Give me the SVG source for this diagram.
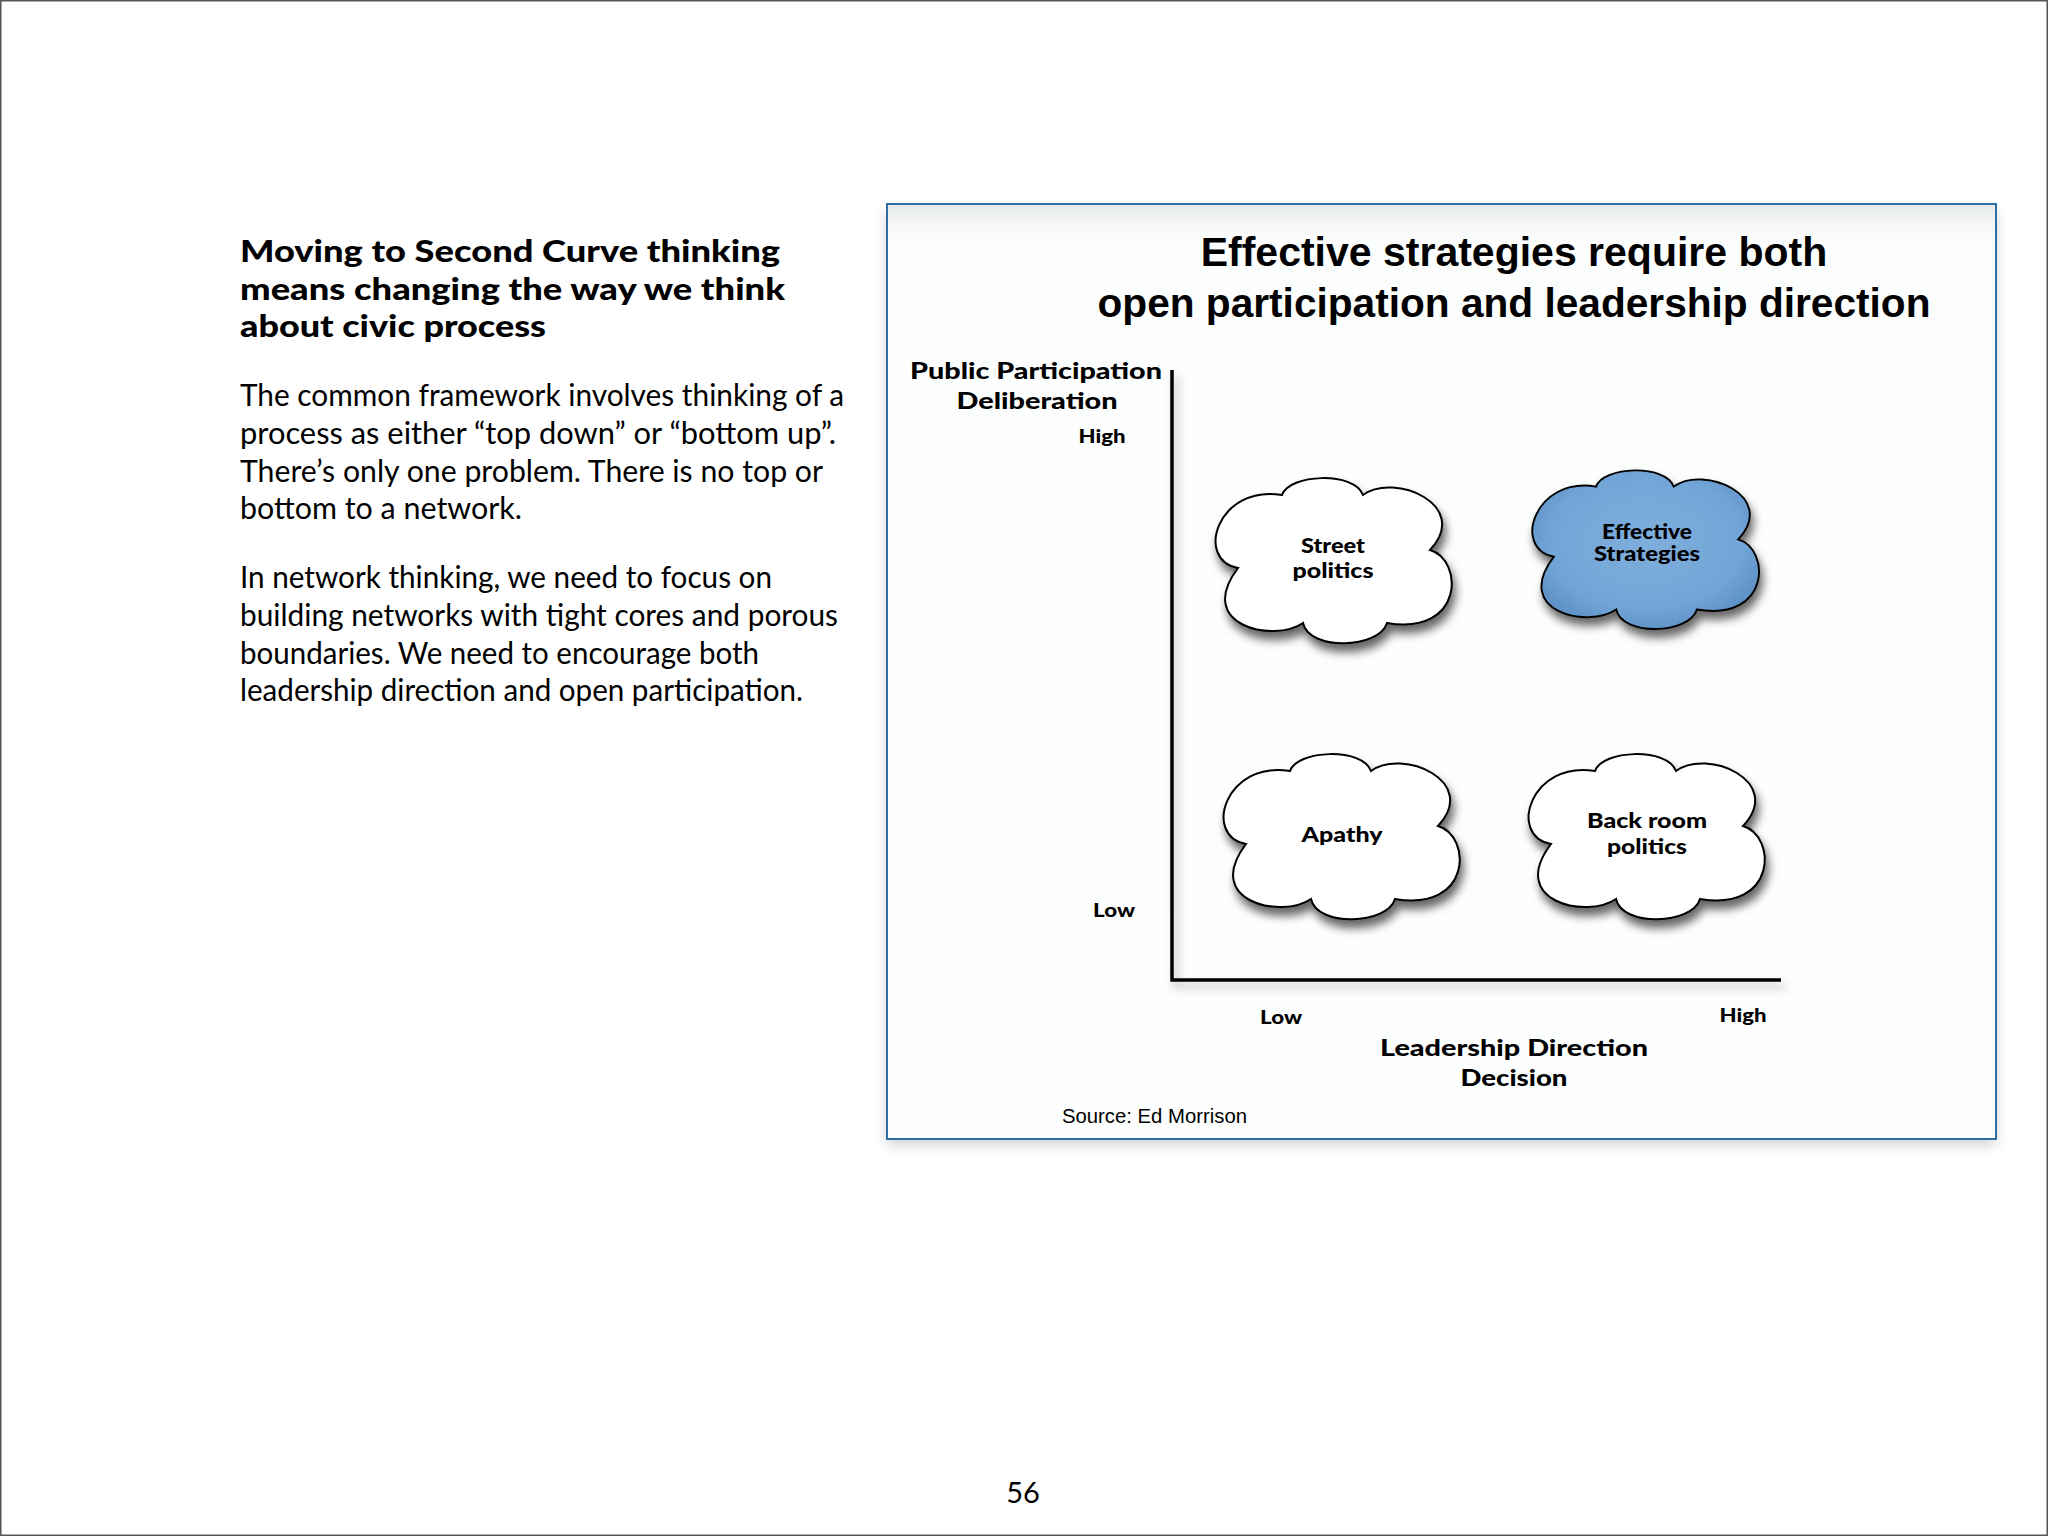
<svg xmlns="http://www.w3.org/2000/svg" xmlns:xlink="http://www.w3.org/1999/xlink" width="2048" height="1536" viewBox="0 0 2048 1536">
<style>
.gill{font-family:Lato,"Open Sans","DejaVu Sans",sans-serif;fill:#000}
.head{font-size:31px;font-weight:900}
.body{font-size:30px;font-weight:400}
.ax{font-size:23px;font-weight:900}
.tick{font-size:19px;font-weight:900}
.cl{font-size:20px;font-weight:900}
.title{font-family:"Liberation Sans",Arial,sans-serif;font-weight:bold;font-size:41px;fill:#000}
.src{font-family:"Liberation Sans",Arial,sans-serif;font-size:20px;fill:#000}
.cloud{stroke:#000;stroke-width:2}
.axis{stroke:#000;stroke-width:3.5;fill:none}
</style>
<defs>
<path id="cloudShape" d="M -96 8 C -140 0 -116 -76 -52 -65 C -45 -86 20 -89 29 -65 C 60 -88 138 -55 96 -10 C 130 0 130 76 53 63 C 45 89 -25 91 -31 63 C -60 83 -140 66 -96 8 Z"/>
<filter id="cloudShadow" x="-20%" y="-20%" width="140%" height="150%">
<feDropShadow dx="3" dy="8" stdDeviation="5" flood-color="#000" flood-opacity="0.6"/>
</filter>
<filter id="axisShadow" x="-10%" y="-10%" width="120%" height="120%">
<feDropShadow dx="4" dy="6" stdDeviation="5" flood-color="#000" flood-opacity="0.3"/>
</filter>
<filter id="boxShadow" x="-5%" y="-5%" width="110%" height="110%">
<feGaussianBlur stdDeviation="7"/>
</filter>
<radialGradient id="blueFill" cx="50%" cy="45%" r="60%">
<stop offset="0" stop-color="#7eaedb"/>
<stop offset="0.7" stop-color="#72a5d7"/>
<stop offset="1" stop-color="#5a8ec4"/>
</radialGradient>
<linearGradient id="boxFill" x1="0" y1="0" x2="0" y2="1">
<stop offset="0" stop-color="#e6e9e9"/>
<stop offset="0.018" stop-color="#f4f6f6"/>
<stop offset="0.04" stop-color="#fcfdfd"/>
<stop offset="1" stop-color="#fdfefe"/>
</linearGradient>
</defs>

<rect x="0.75" y="0.75" width="2046.5" height="1534.5" fill="#fff" stroke="#555" stroke-width="1.5"/>

<g id="left-text">
<text class="gill head" x="240" y="262" textLength="540" lengthAdjust="spacingAndGlyphs">Moving to Second Curve thinking</text>
<text class="gill head" x="240" y="300" textLength="545" lengthAdjust="spacingAndGlyphs">means changing the way we think</text>
<text class="gill head" x="240" y="337" textLength="306" lengthAdjust="spacingAndGlyphs">about civic process</text>
<text class="gill body" x="240" y="406" textLength="604" lengthAdjust="spacingAndGlyphs">The common framework involves thinking of a</text>
<text class="gill body" x="240" y="444" textLength="596" lengthAdjust="spacingAndGlyphs">process as either “top down” or “bottom up”.</text>
<text class="gill body" x="240" y="482" textLength="583" lengthAdjust="spacingAndGlyphs">There’s only one problem. There is no top or</text>
<text class="gill body" x="240" y="519" textLength="282" lengthAdjust="spacingAndGlyphs">bottom to a network.</text>
<text class="gill body" x="240" y="588" textLength="532" lengthAdjust="spacingAndGlyphs">In network thinking, we need to focus on</text>
<text class="gill body" x="240" y="626" textLength="598" lengthAdjust="spacingAndGlyphs">building networks with tight cores and porous</text>
<text class="gill body" x="240" y="664" textLength="519" lengthAdjust="spacingAndGlyphs">boundaries. We need to encourage both</text>
<text class="gill body" x="240" y="701" textLength="563" lengthAdjust="spacingAndGlyphs">leadership direction and open participation.</text>
</g>

<g id="chart-frame">
<rect x="887" y="210" width="1109" height="935" fill="#000" opacity="0.18" filter="url(#boxShadow)"/>
<rect x="887" y="204" width="1109" height="935" fill="url(#boxFill)" stroke="#2f6ea3" stroke-width="2"/>
<text class="title" x="1514" y="266" text-anchor="middle">Effective strategies require both</text>
<text class="title" x="1514" y="317" text-anchor="middle" textLength="833" lengthAdjust="spacingAndGlyphs">open participation and leadership direction</text>
</g>

<g id="axes">
<path class="axis" d="M 1172 370 L 1172 980 L 1781 980" filter="url(#axisShadow)"/>
</g>

<g id="axis-labels">
<text class="gill ax" x="1036" y="379" text-anchor="middle" textLength="252" lengthAdjust="spacingAndGlyphs">Public Participation</text>
<text class="gill ax" x="1037" y="409" text-anchor="middle" textLength="161" lengthAdjust="spacingAndGlyphs">Deliberation</text>
<text class="gill tick" x="1102" y="443" text-anchor="middle" textLength="47" lengthAdjust="spacingAndGlyphs">High</text>
<text class="gill tick" x="1114" y="917" text-anchor="middle" textLength="42" lengthAdjust="spacingAndGlyphs">Low</text>
<text class="gill tick" x="1281" y="1024" text-anchor="middle" textLength="42" lengthAdjust="spacingAndGlyphs">Low</text>
<text class="gill tick" x="1743" y="1022" text-anchor="middle" textLength="47" lengthAdjust="spacingAndGlyphs">High</text>
<text class="gill ax" x="1514" y="1056" text-anchor="middle" textLength="268" lengthAdjust="spacingAndGlyphs">Leadership Direction</text>
<text class="gill ax" x="1514" y="1086" text-anchor="middle" textLength="107" lengthAdjust="spacingAndGlyphs">Decision</text>
<text class="src" x="1062" y="1123" textLength="185" lengthAdjust="spacingAndGlyphs">Source: Ed Morrison</text>
</g>

<g id="cloud-street">
<use xlink:href="#cloudShape" href="#cloudShape" class="cloud" fill="#fff" filter="url(#cloudShadow)" transform="translate(1334 560)"/>
<text class="gill cl" x="1333" y="553" text-anchor="middle" textLength="64" lengthAdjust="spacingAndGlyphs">Street</text>
<text class="gill cl" x="1333" y="578" text-anchor="middle" textLength="81" lengthAdjust="spacingAndGlyphs">politics</text>
</g>

<g id="cloud-effective">
<use xlink:href="#cloudShape" href="#cloudShape" class="cloud" fill="url(#blueFill)" filter="url(#cloudShadow)" transform="translate(1646 549) scale(0.96)"/>
<text class="gill cl" x="1647" y="539" text-anchor="middle" textLength="90" lengthAdjust="spacingAndGlyphs">Effective</text>
<text class="gill cl" x="1647" y="561" text-anchor="middle" textLength="106" lengthAdjust="spacingAndGlyphs">Strategies</text>
</g>

<g id="cloud-apathy">
<use xlink:href="#cloudShape" href="#cloudShape" class="cloud" fill="#fff" filter="url(#cloudShadow)" transform="translate(1342 836)"/>
<text class="gill cl" x="1342" y="842" text-anchor="middle" textLength="81" lengthAdjust="spacingAndGlyphs">Apathy</text>
</g>

<g id="cloud-backroom">
<use xlink:href="#cloudShape" href="#cloudShape" class="cloud" fill="#fff" filter="url(#cloudShadow)" transform="translate(1647 836)"/>
<text class="gill cl" x="1647" y="828" text-anchor="middle" textLength="120" lengthAdjust="spacingAndGlyphs">Back room</text>
<text class="gill cl" x="1647" y="854" text-anchor="middle" textLength="80" lengthAdjust="spacingAndGlyphs">politics</text>
</g>

<g id="page-number">
<text class="gill" x="1023" y="1503" text-anchor="middle" font-size="29">56</text>
</g>
</svg>
